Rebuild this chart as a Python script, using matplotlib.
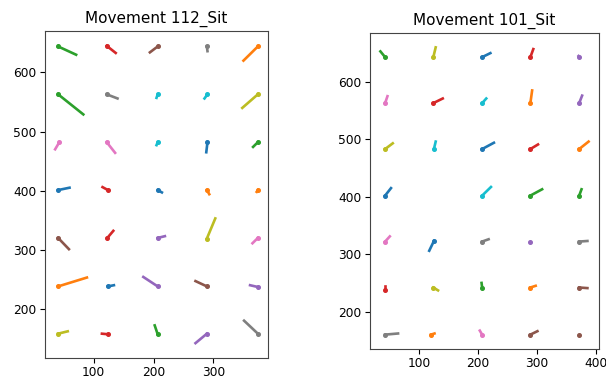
import matplotlib
matplotlib.use('Agg')
import matplotlib.pyplot as plt

# Movement 112_Sit: start point (dot) and end point of every segment
left_x0 = [290, 374, 41, 122, 207, 207, 43, 289, 374, 207,
           41, 289, 41, 124, 207, 41, 122, 122, 289, 290,
           207, 374, 374, 123, 374, 289, 374, 374, 41, 207,
           124, 41, 207, 124, 289]
left_y0 = [482, 644, 644, 645, 320, 644, 482, 644, 563, 563,
           401, 401, 563, 401, 238, 320, 482, 563, 319, 563,
           401, 401, 482, 320, 237, 238, 320, 158, 158, 482,
           238, 238, 157, 157, 158]
left_x1 = [288, 350, 71, 137, 219, 194, 36, 290, 348, 205,
           60, 293, 83, 115, 183, 59, 136, 140, 303, 285,
           214, 372, 366, 133, 361, 270, 365, 351, 57, 205,
           134, 89, 202, 114, 270]
left_y1 = [465, 620, 630, 633, 323, 634, 470, 636, 540, 557,
           405, 394, 529, 406, 254, 301, 464, 556, 353, 556,
           397, 398, 474, 332, 240, 247, 311, 180, 162, 477,
           240, 253, 172, 158, 142]

# Movement 101_Sit
right_x0 = [207, 289, 42, 289, 372, 372, 42, 207, 124, 207,
            207, 372, 289, 124, 372, 289, 42, 372, 42, 125,
            42, 289, 372, 289, 289, 372, 207, 42, 124, 207,
            125, 120, 207, 42]
right_y0 = [643, 563, 643, 643, 644, 242, 563, 322, 643, 563,
            483, 483, 402, 563, 563, 160, 322, 322, 483, 483,
            402, 242, 402, 483, 322, 160, 160, 160, 242, 402,
            323, 160, 242, 238]
right_x1 = [221, 292, 34, 294, 371, 386, 46, 218, 128, 214,
            227, 388, 309, 140, 377, 301, 50, 386, 55, 128,
            52, 298, 376, 302, 289, 372, 203, 64, 132, 222,
            117, 126, 206, 42]
right_y1 = [650, 585, 653, 657, 645, 241, 575, 326, 660, 571,
            494, 496, 413, 571, 576, 166, 331, 323, 493, 496,
            415, 245, 413, 491, 322, 160, 167, 162, 237, 417,
            306, 162, 250, 245]

fig = plt.figure(figsize=(6.06, 3.79), dpi=100)
ax1 = fig.add_axes([45 / 606, 1 - 358 / 379, 223 / 606, 327 / 379])
ax2 = fig.add_axes([370 / 606, 1 - 349 / 379, 229 / 606, 316 / 379])

panels = [
    (ax1, 'Movement 112_Sit', left_x0, left_y0, left_x1, left_y1),
    (ax2, 'Movement 101_Sit', right_x0, right_y0, right_x1, right_y1),
]

for ax, title, x0, y0, x1, y1 in panels:
    for xa, ya, xb, yb in zip(x0, y0, x1, y1):
        ax.plot([xa, xb], [ya, yb], lw=1.9, marker='o', markevery=[0], ms=2.6)
    ax.set_title(title, fontsize=11)
    ax.tick_params(labelsize=8.8, pad=2.5)
    for s in ax.spines.values():
        s.set_color('#444444')

fig.savefig('out.png', dpi=100)
